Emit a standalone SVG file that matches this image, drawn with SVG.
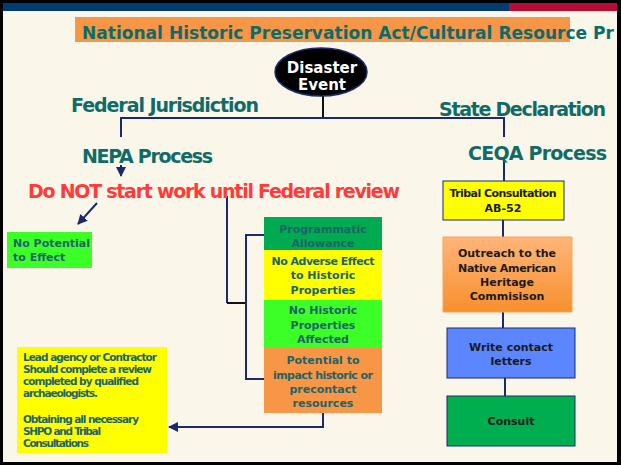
<svg xmlns="http://www.w3.org/2000/svg" width="621" height="465" viewBox="0 0 621 465">
<defs>
<style>
text{font-family:"DejaVu Sans","Liberation Sans",sans-serif;font-weight:bold}
.h{fill:#0F6B68;font-size:19px}
.t{fill:#0F6B68;font-size:18px}
.b{font-size:11px;fill:#1E6468;text-anchor:middle}
.k{font-size:11px;fill:#1A1A1A;text-anchor:middle}
.l{font-size:10.5px;fill:#1E6468}
.c{fill:none;stroke:#1B2A6B;stroke-width:2}
</style>
<linearGradient id="og" x1="0" y1="0" x2="0" y2="1">
<stop offset="0" stop-color="#FFB579"/>
<stop offset="1" stop-color="#F7902E"/>
</linearGradient>
<marker id="ah" viewBox="0 0 10 10" refX="9" refY="5" markerWidth="5" markerHeight="5" orient="auto">
<path d="M0,0 L10,5 L0,10 z" fill="#1B2A6B"/>
</marker>
</defs>
<rect x="0" y="0" width="621" height="465" fill="#000"/>
<rect x="3" y="3" width="614" height="459" fill="#FAF6E9"/>
<rect x="3" y="3" width="506" height="8" fill="#003C71"/>
<rect x="509" y="3" width="108" height="8" fill="#B80C36"/>
<g id="title">
<rect x="75" y="17" width="495" height="25" fill="#F79646"/>
<text x="82" y="39" class="t" textLength="532" lengthAdjust="spacingAndGlyphs">National Historic Preservation Act/Cultural Resource Pr</text>
</g>
<g id="connectors">
<line x1="323" y1="95" x2="323" y2="118" stroke="#111" stroke-width="2"/>
<polyline class="c" points="121,137 121,118 504,118 504,137"/>
<line class="c" x1="121" y1="165" x2="121" y2="176" marker-end="url(#ah)"/>
<line class="c" x1="97" y1="203" x2="78" y2="224" marker-end="url(#ah)"/>
<polyline class="c" points="227,196 227,303"/>
<line x1="227" y1="303" x2="246" y2="303" stroke="#111" stroke-width="2"/>
<polyline class="c" points="264,235 246,235 246,379 264,379"/>
<polyline class="c" points="323,413 323,427 169,427" marker-end="url(#ah)"/>
<line class="c" x1="504" y1="158" x2="504" y2="181"/>
<line class="c" x1="503" y1="220" x2="503" y2="237"/>
<line class="c" x1="503" y1="312" x2="503" y2="328"/>
<line class="c" x1="505" y1="378" x2="505" y2="396"/>
</g>
<g id="disaster">
<ellipse cx="321" cy="72" rx="46" ry="24" fill="#000" stroke="#1B2A6B" stroke-width="1.5"/>
<text x="322" y="73" font-size="15" fill="#fff" text-anchor="middle">Disaster</text>
<text x="322" y="90" font-size="15" fill="#fff" text-anchor="middle">Event</text>
</g>
<g id="federal"><text x="71" y="112" class="h" textLength="188">Federal Jurisdiction</text></g>
<g id="nepa"><text x="82" y="163" class="h" textLength="131">NEPA Process</text></g>
<g id="state"><text x="439" y="116" class="h" textLength="167">State Declaration</text></g>
<g id="ceqa"><text x="468" y="160" class="h" textLength="139">CEQA Process</text></g>
<g id="donot"><text x="28" y="198" font-size="19" fill="#FF3B3B" textLength="372">Do NOT start work until Federal review</text></g>
<g id="nopotential">
<rect x="7" y="232" width="85" height="36" fill="#3CFF28"/>
<text x="13" y="247" font-size="11" fill="#1E6468">No Potential</text>
<text x="13" y="261" font-size="11" fill="#1E6468">to Effect</text>
</g>
<g id="programmatic">
<rect x="264" y="217" width="118" height="33" fill="#00AA50"/>
<text x="323" y="233" class="b">Programmatic</text>
<text x="323" y="247" class="b">Allowance</text>
</g>
<g id="noadverse">
<rect x="264" y="250" width="118" height="50" fill="#FFFF00"/>
<text x="323" y="265" class="b" textLength="103">No Adverse Effect</text>
<text x="323" y="279" class="b">to Historic</text>
<text x="323" y="294" class="b">Properties</text>
</g>
<g id="nohistoric">
<rect x="264" y="300" width="118" height="48" fill="#3CFF28"/>
<text x="323" y="314" class="b">No Historic</text>
<text x="323" y="329" class="b">Properties</text>
<text x="323" y="343" class="b">Affected</text>
</g>
<g id="potential">
<rect x="264" y="348" width="118" height="65" fill="#F79646"/>
<text x="323" y="364" class="b">Potential to</text>
<text x="323" y="379" class="b" textLength="100">impact historic or</text>
<text x="323" y="393" class="b">precontact</text>
<text x="323" y="407" class="b">resources</text>
</g>
<g id="lead">
<rect x="17" y="347" width="150" height="106" fill="#FFFF00"/>
<text x="23" y="361" class="l" textLength="134">Lead agency or Contractor</text>
<text x="23" y="373" class="l" textLength="129">Should complete a review</text>
<text x="23" y="385" class="l" textLength="116">completed by qualified</text>
<text x="23" y="397" class="l" textLength="75">archaeologists.</text>
<text x="23" y="423" class="l" textLength="116">Obtaining all necessary</text>
<text x="23" y="435" class="l" textLength="78">SHPO and Tribal</text>
<text x="23" y="447" class="l" textLength="66">Consultations</text>
</g>
<g id="tribal">
<rect x="443" y="181" width="121" height="39" fill="#FFFF00" stroke="#1B2A6B" stroke-width="1"/>
<text x="503" y="197" class="k" textLength="107">Tribal Consultation</text>
<text x="503" y="212" class="k">AB-52</text>
</g>
<g id="outreach">
<rect x="443" y="237" width="129" height="75" fill="url(#og)" stroke="#F7A35C" stroke-width="1"/>
<text x="507" y="257" class="k">Outreach to the</text>
<text x="507" y="272" class="k" textLength="98">Native American</text>
<text x="507" y="286" class="k">Heritage</text>
<text x="507" y="300" class="k">Commisison</text>
</g>
<g id="write">
<rect x="447" y="328" width="128" height="50" fill="#5B86FF" stroke="#1B2A6B" stroke-width="1"/>
<text x="511" y="351" class="k">Write contact</text>
<text x="511" y="365" class="k">letters</text>
</g>
<g id="consult">
<rect x="447" y="396" width="128" height="50" fill="#00AD4F" stroke="#1B2A6B" stroke-width="1"/>
<text x="511" y="425" class="k">Consult</text>
</g>
</svg>
